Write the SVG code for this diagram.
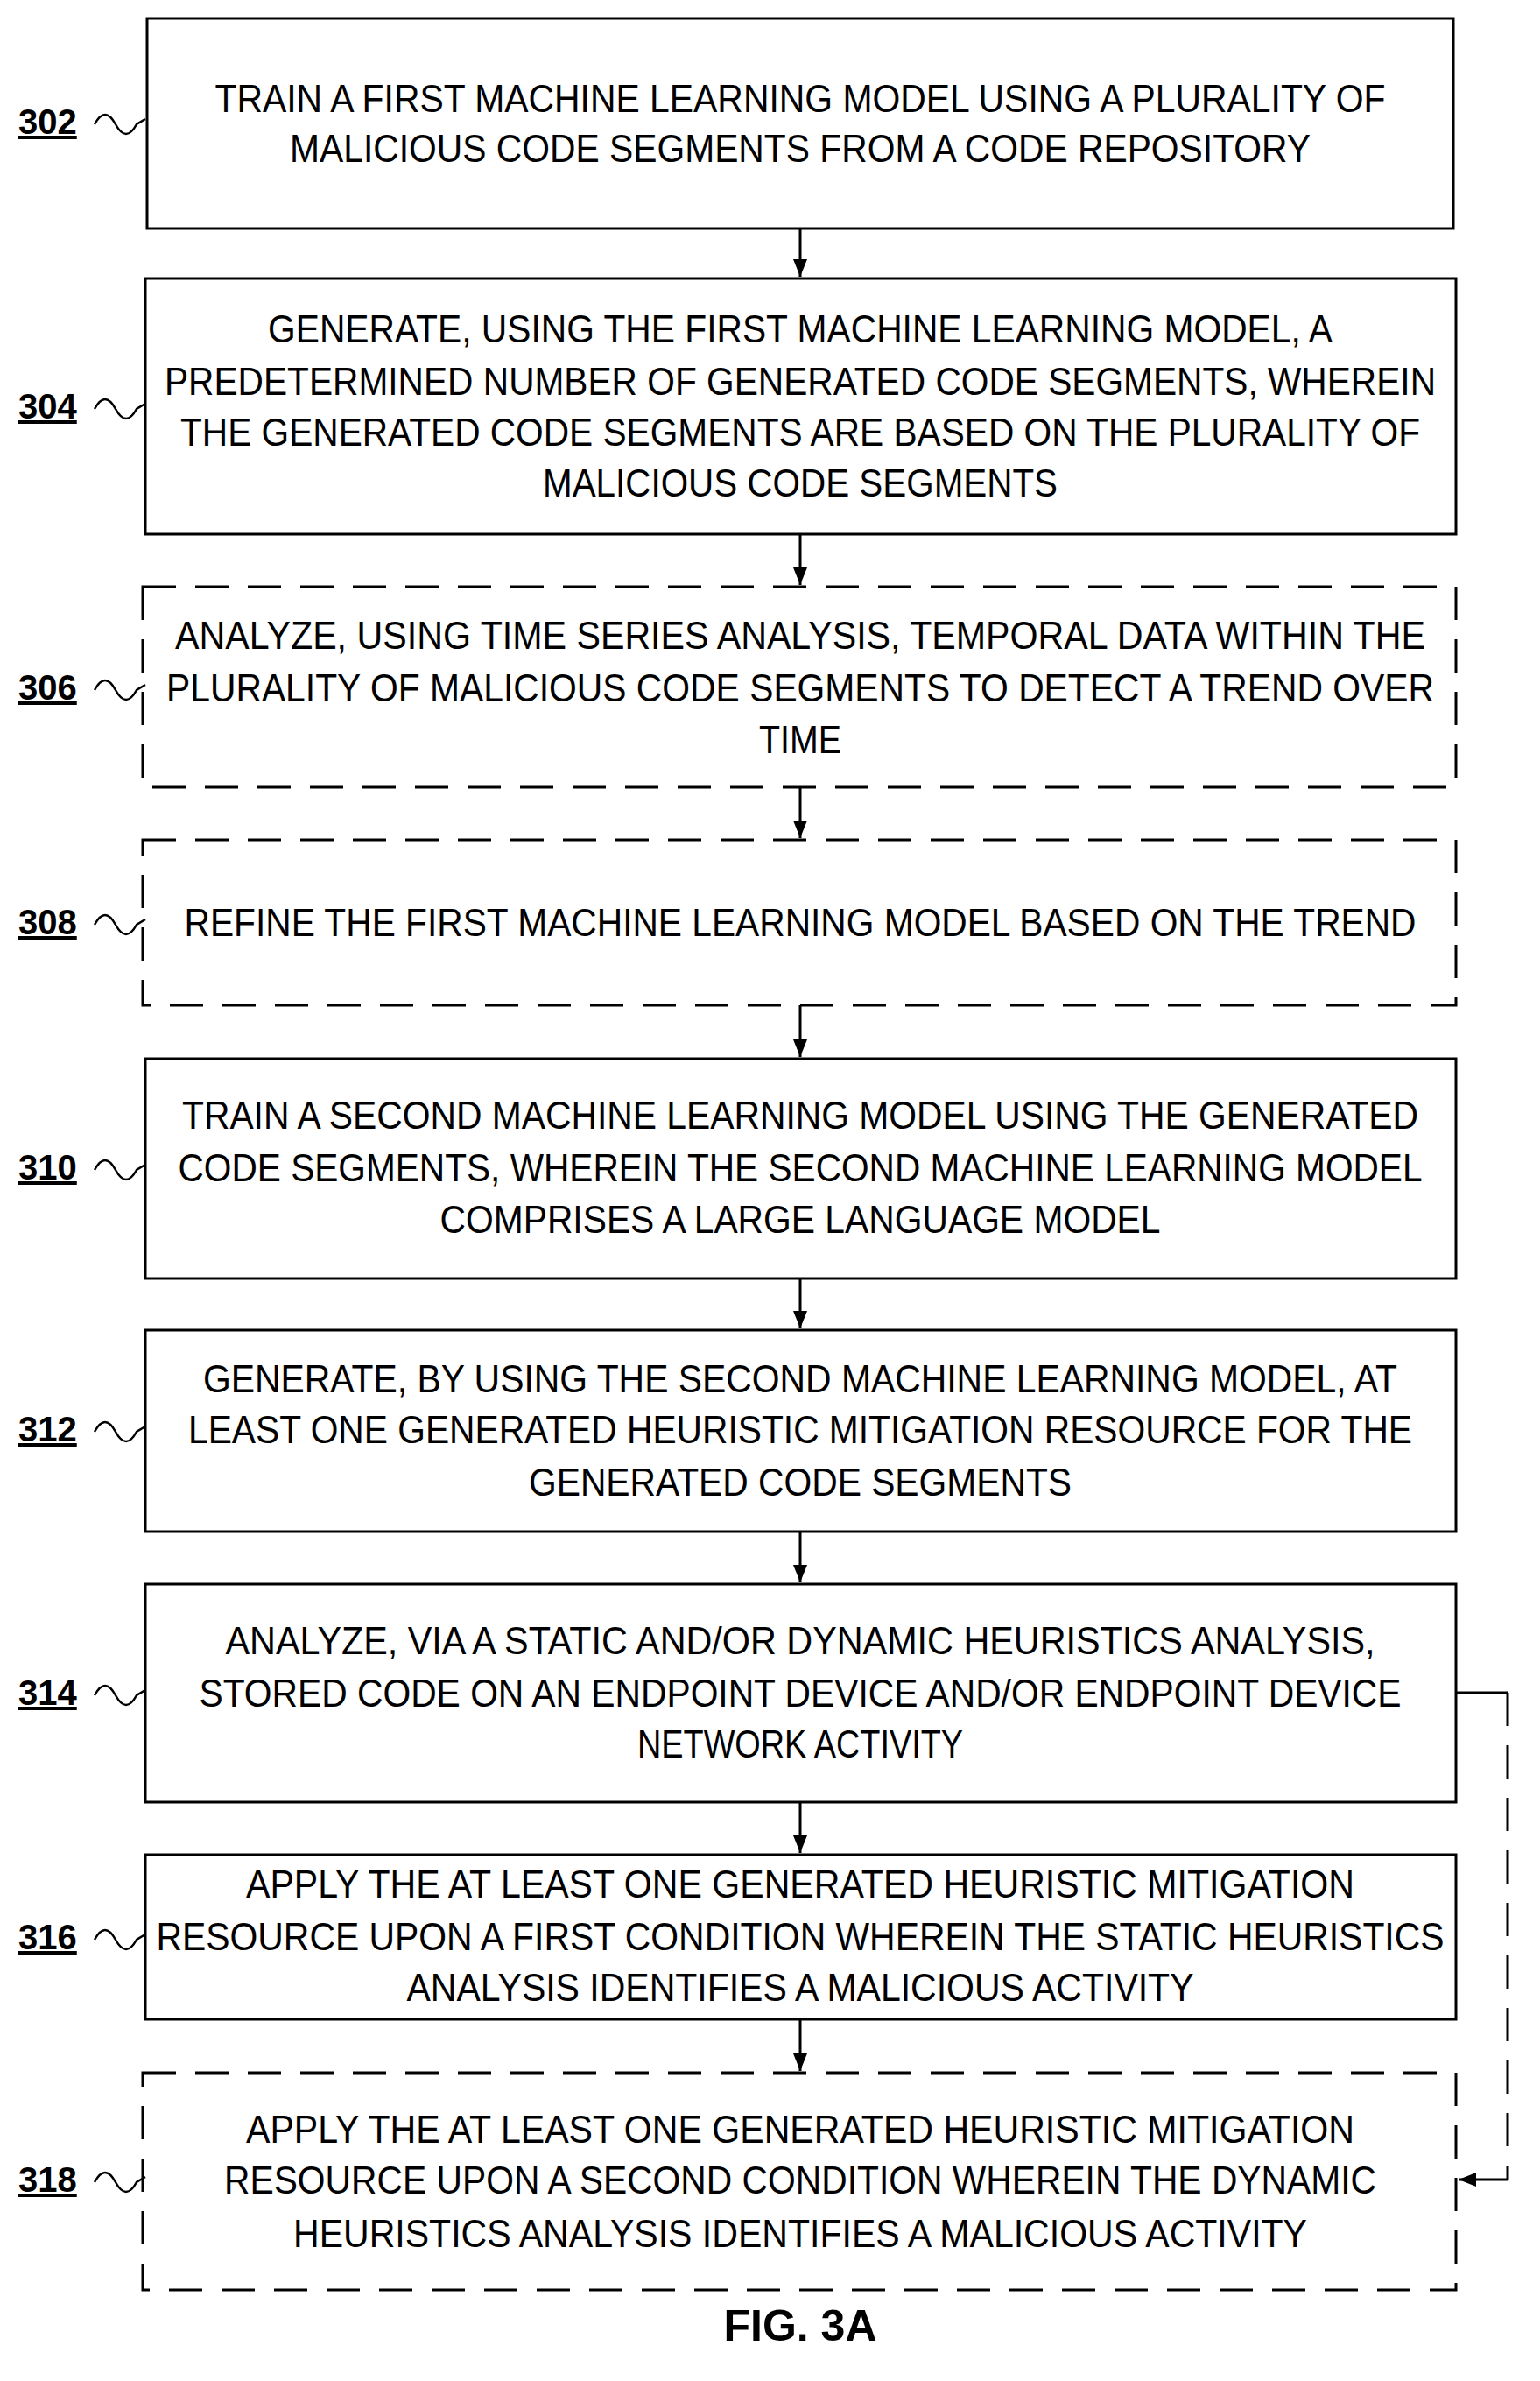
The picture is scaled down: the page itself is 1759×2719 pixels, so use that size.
<svg xmlns="http://www.w3.org/2000/svg" width="1759" height="2719" viewBox="0 0 1759 2719">
<style>
.b{fill:#fff;stroke:#000;stroke-width:3}
.d{fill:none;stroke:#000;stroke-width:3;stroke-dasharray:38 22}
.t{font-family:"Liberation Sans",Arial,sans-serif;font-size:45px;text-anchor:middle;fill:#000}
.l{font-family:"Liberation Sans",Arial,sans-serif;font-size:40px;font-weight:bold;text-decoration:underline;fill:#000}
.s{fill:none;stroke:#000;stroke-width:2.5}
.c{fill:none;stroke:#000;stroke-width:3}
</style>
<defs>
<marker id="ah" markerWidth="22" markerHeight="22" refX="20" refY="11" orient="auto" markerUnits="userSpaceOnUse"><path d="M0,3L20,11L0,19z" fill="#000"/></marker>
</defs>
<rect width="1759" height="2719" fill="#fff"/>
<g id="n302"><rect class="b" x="168" y="21" width="1492" height="240"/>
<text class="t"><tspan x="914" y="128" textLength="1337" lengthAdjust="spacingAndGlyphs">TRAIN A FIRST MACHINE LEARNING MODEL USING A PLURALITY OF</tspan><tspan x="914" y="185" textLength="1166" lengthAdjust="spacingAndGlyphs">MALICIOUS CODE SEGMENTS FROM A CODE REPOSITORY</tspan></text>
<text class="l" x="21" y="153">302</text><path class="s" d="M108,142 q12,-22 24,0 t24,0 l10,-6"/></g>
<g id="n304"><rect class="b" x="166" y="318" width="1497" height="292"/>
<text class="t"><tspan x="914" y="391" textLength="1216" lengthAdjust="spacingAndGlyphs">GENERATE, USING THE FIRST MACHINE LEARNING MODEL, A</tspan><tspan x="914" y="451" textLength="1452" lengthAdjust="spacingAndGlyphs">PREDETERMINED NUMBER OF GENERATED CODE SEGMENTS, WHEREIN</tspan><tspan x="914" y="509" textLength="1416" lengthAdjust="spacingAndGlyphs">THE GENERATED CODE SEGMENTS ARE BASED ON THE PLURALITY OF</tspan><tspan x="914" y="567" textLength="588" lengthAdjust="spacingAndGlyphs">MALICIOUS CODE SEGMENTS</tspan></text>
<text class="l" x="21" y="478">304</text><path class="s" d="M108,467 q12,-22 24,0 t24,0 l10,-6"/></g>
<g id="n306"><rect class="d" x="163" y="670" width="1500" height="229"/>
<text class="t"><tspan x="914" y="741" textLength="1428" lengthAdjust="spacingAndGlyphs">ANALYZE, USING TIME SERIES ANALYSIS, TEMPORAL DATA WITHIN THE</tspan><tspan x="914" y="801" textLength="1448" lengthAdjust="spacingAndGlyphs">PLURALITY OF MALICIOUS CODE SEGMENTS TO DETECT A TREND OVER</tspan><tspan x="914" y="860" textLength="94" lengthAdjust="spacingAndGlyphs">TIME</tspan></text>
<text class="l" x="21" y="799">306</text><path class="s" d="M108,788 q12,-22 24,0 t24,0 l10,-6"/></g>
<g id="n308"><rect class="d" x="163" y="959" width="1500" height="189"/>
<text class="t"><tspan x="914" y="1069" textLength="1407" lengthAdjust="spacingAndGlyphs">REFINE THE FIRST MACHINE LEARNING MODEL BASED ON THE TREND</tspan></text>
<text class="l" x="21" y="1067">308</text><path class="s" d="M108,1056 q12,-22 24,0 t24,0 l10,-6"/></g>
<g id="n310"><rect class="b" x="166" y="1209" width="1497" height="251"/>
<text class="t"><tspan x="914" y="1289" textLength="1412" lengthAdjust="spacingAndGlyphs">TRAIN A SECOND MACHINE LEARNING MODEL USING THE GENERATED</tspan><tspan x="914" y="1349" textLength="1421" lengthAdjust="spacingAndGlyphs">CODE SEGMENTS, WHEREIN THE SECOND MACHINE LEARNING MODEL</tspan><tspan x="914" y="1408" textLength="823" lengthAdjust="spacingAndGlyphs">COMPRISES A LARGE LANGUAGE MODEL</tspan></text>
<text class="l" x="21" y="1347">310</text><path class="s" d="M108,1336 q12,-22 24,0 t24,0 l10,-6"/></g>
<g id="n312"><rect class="b" x="166" y="1519" width="1497" height="230"/>
<text class="t"><tspan x="914" y="1590" textLength="1364" lengthAdjust="spacingAndGlyphs">GENERATE, BY USING THE SECOND MACHINE LEARNING MODEL, AT</tspan><tspan x="914" y="1648" textLength="1398" lengthAdjust="spacingAndGlyphs">LEAST ONE GENERATED HEURISTIC MITIGATION RESOURCE FOR THE</tspan><tspan x="914" y="1708" textLength="620" lengthAdjust="spacingAndGlyphs">GENERATED CODE SEGMENTS</tspan></text>
<text class="l" x="21" y="1646">312</text><path class="s" d="M108,1635 q12,-22 24,0 t24,0 l10,-6"/></g>
<g id="n314"><rect class="b" x="166" y="1809" width="1497" height="249"/>
<text class="t"><tspan x="914" y="1889" textLength="1313" lengthAdjust="spacingAndGlyphs">ANALYZE, VIA A STATIC AND/OR DYNAMIC HEURISTICS ANALYSIS,</tspan><tspan x="914" y="1949" textLength="1373" lengthAdjust="spacingAndGlyphs">STORED CODE ON AN ENDPOINT DEVICE AND/OR ENDPOINT DEVICE</tspan><tspan x="914" y="2007" textLength="372" lengthAdjust="spacingAndGlyphs">NETWORK ACTIVITY</tspan></text>
<text class="l" x="21" y="1947">314</text><path class="s" d="M108,1936 q12,-22 24,0 t24,0 l10,-6"/></g>
<g id="n316"><rect class="b" x="166" y="2118" width="1497" height="188"/>
<text class="t"><tspan x="914" y="2167" textLength="1266" lengthAdjust="spacingAndGlyphs">APPLY THE AT LEAST ONE GENERATED HEURISTIC MITIGATION</tspan><tspan x="914" y="2227" textLength="1471" lengthAdjust="spacingAndGlyphs">RESOURCE UPON A FIRST CONDITION WHEREIN THE STATIC HEURISTICS</tspan><tspan x="914" y="2285" textLength="899" lengthAdjust="spacingAndGlyphs">ANALYSIS IDENTIFIES A MALICIOUS ACTIVITY</tspan></text>
<text class="l" x="21" y="2226">316</text><path class="s" d="M108,2215 q12,-22 24,0 t24,0 l10,-6"/></g>
<g id="n318"><rect class="d" x="163" y="2367" width="1500" height="248"/>
<text class="t"><tspan x="914" y="2447" textLength="1266" lengthAdjust="spacingAndGlyphs">APPLY THE AT LEAST ONE GENERATED HEURISTIC MITIGATION</tspan><tspan x="914" y="2505" textLength="1316" lengthAdjust="spacingAndGlyphs">RESOURCE UPON A SECOND CONDITION WHEREIN THE DYNAMIC</tspan><tspan x="914" y="2566" textLength="1158" lengthAdjust="spacingAndGlyphs">HEURISTICS ANALYSIS IDENTIFIES A MALICIOUS ACTIVITY</tspan></text>
<text class="l" x="21" y="2503">318</text><path class="s" d="M108,2492 q12,-22 24,0 t24,0 l10,-6"/></g>
<g id="connectors">
<line class="c" x1="914" y1="261" x2="914" y2="316" marker-end="url(#ah)"/>
<line class="c" x1="914" y1="610" x2="914" y2="668" marker-end="url(#ah)"/>
<line class="c" x1="914" y1="899" x2="914" y2="957" marker-end="url(#ah)"/>
<line class="c" x1="914" y1="1148" x2="914" y2="1207" marker-end="url(#ah)"/>
<line class="c" x1="914" y1="1460" x2="914" y2="1517" marker-end="url(#ah)"/>
<line class="c" x1="914" y1="1749" x2="914" y2="1807" marker-end="url(#ah)"/>
<line class="c" x1="914" y1="2058" x2="914" y2="2116" marker-end="url(#ah)"/>
<line class="c" x1="914" y1="2306" x2="914" y2="2365" marker-end="url(#ah)"/>
<path class="c" d="M1663,1933 H1722"/>
<path class="c" d="M1722,1933 V2489" stroke-dasharray="38 22"/>
<path class="c" d="M1722,2489 H1666" marker-end="url(#ah)"/>
</g>
<text x="914" y="2673" text-anchor="middle" font-family="Liberation Sans,Arial,sans-serif" font-size="50" font-weight="bold">FIG. 3A</text>
</svg>
